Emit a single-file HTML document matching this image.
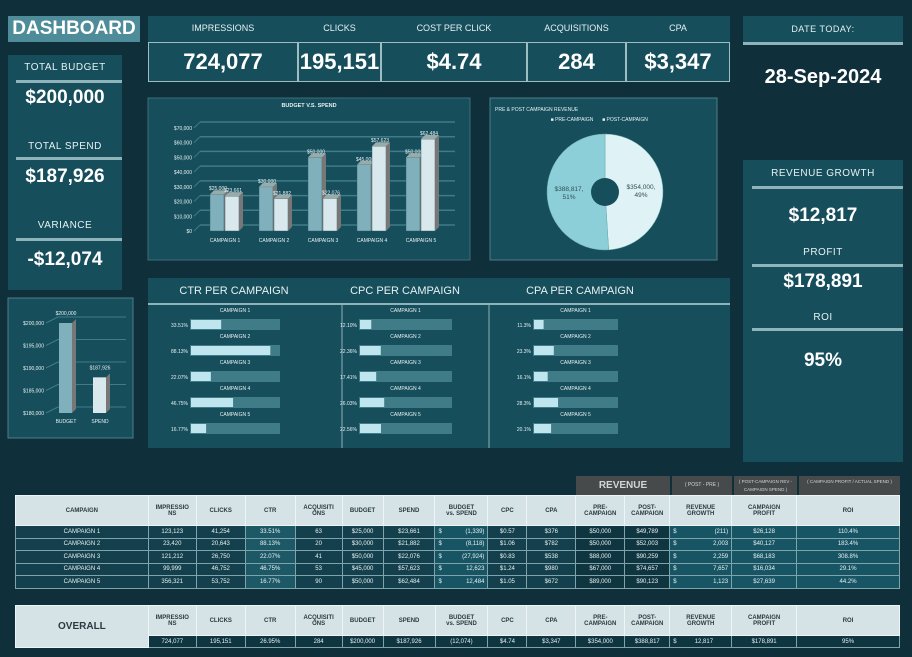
<!DOCTYPE html>
<html><head><meta charset="utf-8">
<style>
*{margin:0;padding:0;box-sizing:border-box}
body{width:912px;height:657px;background:#0f2f3a;font-family:"Liberation Sans",sans-serif;color:#fff;position:relative;overflow:hidden}
.abs{position:absolute}
.panel{position:absolute;background:#164e5b}
.c{text-align:center}
.lbl{font-size:10px;color:#e6f1f3;letter-spacing:.5px}
.big{font-weight:bold;font-size:19px}
.hr{position:absolute;height:3px;background:#8fb3ba}
table{border-collapse:collapse;position:absolute;font-size:6px;color:#e8f0f2}
td{border:1px solid #7fa3aa;text-align:center;height:12.5px;background:#13404c}
th{background:#d5e3e6;color:#2a3a40;font-size:6px;font-weight:bold;border:1px solid #eef5f6;height:30px}
</style></head><body>
<div class="abs c" style="left:8px;top:16px;width:132px;height:26px;background:#4e8c9a;font-weight:bold;font-size:19px;line-height:26px">DASHBOARD</div>

<div class="panel" style="left:148px;top:16px;width:582px;height:66px"></div>
<div id="kpis"></div>

<div class="abs c lbl" style="left:743px;top:16px;width:160px;height:26px;line-height:26px;background:#164e5b;font-size:9px">DATE TODAY:</div>
<div class="hr" style="left:743px;top:42px;width:160px"></div>
<div class="abs c big" style="left:743px;top:66px;width:160px;font-size:20px">28-Sep-2024</div>

<div class="panel" style="left:8px;top:55px;width:114px;height:235px"></div>
<div class="abs c lbl" style="left:8px;top:62px;width:114px">TOTAL BUDGET</div>
<div class="hr" style="left:16px;top:80px;width:106px"></div>
<div class="abs c big" style="left:8px;top:87px;width:114px">$200,000</div>
<div class="abs c lbl" style="left:8px;top:141px;width:114px">TOTAL SPEND</div>
<div class="hr" style="left:16px;top:157px;width:106px"></div>
<div class="abs c big" style="left:8px;top:166px;width:114px">$187,926</div>
<div class="abs c lbl" style="left:8px;top:220px;width:114px">VARIANCE</div>
<div class="hr" style="left:16px;top:238px;width:106px"></div>
<div class="abs c big" style="left:8px;top:249px;width:114px">-$12,074</div>

<div class="panel" style="left:743px;top:160px;width:160px;height:302px"></div>
<div class="abs c lbl" style="left:743px;top:168px;width:160px">REVENUE GROWTH</div>
<div class="hr" style="left:752px;top:186px;width:151px"></div>
<div class="abs c big" style="left:743px;top:205px;width:160px">$12,817</div>
<div class="abs c lbl" style="left:743px;top:247px;width:160px">PROFIT</div>
<div class="hr" style="left:752px;top:264px;width:151px"></div>
<div class="abs c big" style="left:743px;top:271px;width:160px">$178,891</div>
<div class="abs c lbl" style="left:743px;top:312px;width:160px">ROI</div>
<div class="hr" style="left:752px;top:328px;width:151px"></div>
<div class="abs c big" style="left:743px;top:350px;width:160px">95%</div>

<svg class="abs" style="left:0;top:0" width="912" height="470" id="charts"></svg>

<div class="abs" style="left:576px;top:476px;width:94px;height:19px;background:#474a4b;color:#cfd6d8;font-weight:bold;font-size:10px;line-height:19px;text-align:center">REVENUE</div>
<div class="abs" style="left:672px;top:476px;width:60px;height:19px;background:#474a4b;color:#cfd6d8;font-size:5px;line-height:19px;text-align:center">( POST - PRE )</div>
<div class="abs" style="left:734px;top:476px;width:63px;height:19px;background:#474a4b;color:#cfd6d8;font-size:4.5px;line-height:8px;padding-top:2px;text-align:center">( POST-CAMPAIGN REV - CAMPAIGN SPEND )</div>
<div class="abs" style="left:799px;top:476px;width:101px;height:19px;background:#474a4b;color:#cfd6d8;font-size:4.5px;line-height:8px;padding-top:2px;text-align:center">( CAMPAIGN PROFIT / ACTUAL SPEND )</div>
<div id="tables"></div>

<script>
const NS="http://www.w3.org/2000/svg";
const svg=document.getElementById('charts');
function el(t,a,p){const e=document.createElementNS(NS,t);for(const k in a)e.setAttribute(k,a[k]);(p||svg).appendChild(e);return e;}
function tx(x,y,s,a,p){const e=el('text',Object.assign({x:x,y:y,fill:'#e6f1f3','font-size':6,'text-anchor':'middle','font-family':'Liberation Sans'},a||{}),p);e.textContent=s;return e;}

// KPI
const kpiNames=["IMPRESSIONS","CLICKS","COST PER CLICK","ACQUISITIONS","CPA"];
const kpiValues=["724,077","195,151","$4.74","284","$3,347"];
const kpiEdges=[148,298,381,527,626,730];
const kd=document.getElementById('kpis');
kpiNames.forEach((n,i)=>{
 const h=document.createElement('div');h.className='abs c';
 
 h.style.cssText=`left:${kpiEdges[i]}px;top:23px;width:${kpiEdges[i+1]-kpiEdges[i]}px;font-size:9px;color:#e6f1f3`;
 h.textContent=n;kd.appendChild(h);
 const v=document.createElement('div');v.className='abs c';
 
 v.style.cssText=`left:${kpiEdges[i]}px;top:42px;width:${kpiEdges[i+1]-kpiEdges[i]}px;height:40px;border:1px solid #9dbdc3;font-weight:bold;font-size:22px;line-height:38px`;
 v.textContent=kpiValues[i];kd.appendChild(v);
});

// Budget vs spend chart
const campaigns=["CAMPAIGN 1","CAMPAIGN 2","CAMPAIGN 3","CAMPAIGN 4","CAMPAIGN 5"];
const budgets=[25000,30000,50000,45000,50000];
const spends=[23661,21882,22076,57623,62484];
const bTicks=[0,10000,20000,30000,40000,50000,60000,70000];
el('rect',{x:148,y:98,width:322,height:162,fill:'#164e5b',stroke:'#3d6e79'});
tx(309,107,'BUDGET V.S. SPEND',{'font-size':5.5,'font-weight':'bold'});
const by=v=>231-v/70000*103;
bTicks.forEach(t=>{el('line',{x1:200,x2:455,y1:by(t)-6,y2:by(t)-6,stroke:'#3f7c88','stroke-width':1.5});el('line',{x1:194,x2:200,y1:by(t),y2:by(t)-6,stroke:'#3f7c88'});
 tx(192,by(t)+2,'$'+t.toLocaleString('en-US'),{'text-anchor':'end','font-size':5});});
campaigns.forEach((c,i)=>{const cx=225+i*49;
 [[budgets[i],'#7fb0bb',-15],[spends[i],'#d8e8ec',0]].forEach(([v,f,o])=>{
  const r=el('rect',{x:cx+o,y:by(v),width:14,height:231-by(v),fill:f,stroke:'#2b5560','stroke-width':.4});
  
  el('polygon',{points:`${cx+o+14},${by(v)} ${cx+o+18},${by(v)-4} ${cx+o+18},${227} ${cx+o+14},231`,fill:'#777'});
  el('polygon',{points:`${cx+o},${by(v)} ${cx+o+4},${by(v)-4} ${cx+o+18},${by(v)-4} ${cx+o+14},${by(v)}`,fill:'#9aa'});
  tx(cx+o+8,by(v)-4,'$'+v.toLocaleString('en-US'),{'font-size':5});
 });
 tx(cx,242,c,{'font-size':5});
});

// Pie
const pieLabels=["PRE-CAMPAIGN","POST-CAMPAIGN"];
const pieValues=[354000,388817];
const pieShares=[49,51];
el('rect',{x:490,y:98,width:227,height:162,fill:'#164e5b',stroke:'#4e7e88'});
tx(495,111,'PRE & POST CAMPAIGN REVENUE',{'text-anchor':'start','font-size':5});
tx(572,121,'■ PRE-CAMPAIGN',{'font-size':5});tx(625,121,'■ POST-CAMPAIGN',{'font-size':5});
let ang=-Math.PI/2;const pcx=605,pcy=192,R=58;
const pcol=['#dff2f5','#8dcfd8'];
pieValues.forEach((v,i)=>{const fr=pieShares[i]/100;const a2=ang+fr*2*Math.PI;
 const p=el('path',{d:`M${pcx},${pcy} L${pcx+R*Math.cos(ang)},${pcy+R*Math.sin(ang)} A${R},${R} 0 ${fr>.5?1:0} 1 ${pcx+R*Math.cos(a2)},${pcy+R*Math.sin(a2)} Z`,fill:pcol[i],stroke:'#6aa',"stroke-width":.5});
 
 const m=(ang+a2)/2;const lx=pcx+36*Math.cos(m),ly=pcy+36*Math.sin(m);
 tx(lx,ly-2,'$'+v.toLocaleString('en-US')+',',{fill:'#2f4f55','font-size':6.5});
 tx(lx,ly+6,pieShares[i]+'%',{fill:'#2f4f55','font-size':6.5});
 ang=a2;});
el('circle',{cx:pcx,cy:pcy,r:14,fill:'#164e5b'});

// small chart
const totLabels=["BUDGET","SPEND"];
const totValues=[200000,187926];
const sTicks=[180000,185000,190000,195000,200000];
el('rect',{x:8,y:298,width:125,height:140,fill:'#164e5b',stroke:'#4e7e88'});
const sy=v=>413-(v-180000)/20000*90;
sTicks.forEach(t=>{el('line',{x1:58,x2:126,y1:sy(t)-6,y2:sy(t)-6,stroke:'#3f7c88'});el('line',{x1:46,x2:58,y1:sy(t),y2:sy(t)-6,stroke:'#3f7c88'});
 tx(44,sy(t)+2,'$'+t.toLocaleString('en-US'),{'text-anchor':'end','font-size':5});});
totValues.forEach((v,i)=>{const x=59+i*34;
 const r=el('rect',{x:x,y:sy(v),width:13,height:413-sy(v),fill:i?'#d8e8ec':'#7fb0bb'});
 
 el('polygon',{points:`${x+13},${sy(v)} ${x+17},${sy(v)-4} ${x+17},409 ${x+13},413`,fill:'#777'});
 tx(x+7,sy(v)-8,'$'+v.toLocaleString('en-US'),{'font-size':5});
 tx(x+7,423,totLabels[i],{'font-size':5});});

// CTR/CPC/CPA panel
el('rect',{x:148,y:278,width:582,height:170,fill:'#164e5b'});
el('line',{x1:148,x2:730,y1:304,y2:304,stroke:'#8fb3ba','stroke-width':2});
el('line',{x1:342,x2:342,y1:305,y2:448,stroke:'#8fb3ba'});el('line',{x1:489,x2:489,y1:305,y2:448,stroke:'#8fb3ba'});
const ctrValues=[33.51,88.13,22.07,46.75,16.77];
const cpcValues=[12.10,22.36,17.41,26.03,22.56];
const cpaValues=[11.3,23.3,16.1,28.3,20.1];
const groups=[["CTR PER CAMPAIGN",ctrValues,190,90,234],["CPC PER CAMPAIGN",cpcValues,359,93,405],["CPA PER CAMPAIGN",cpaValues,533,85,580]];
groups.forEach(([t,vals,x0,w,tc],g)=>{
 tx(tc,294,t,{'font-size':11});
 vals.forEach((v,i)=>{const y=319+i*26;
  tx(x0+w/2,313+i*26-1,campaigns[i],{'font-size':5});
  el('rect',{x:x0,y:y,width:w,height:11,fill:'#3f7c88'});
  const b=el('rect',{x:x0+1,y:y+1,width:Math.max(2,w*v/100),height:9,fill:'#bfe6ee'});
  
  tx(x0-2,y+8,(g==2?v.toFixed(1):v.toFixed(2))+'%',{'text-anchor':'end','font-size':5});
 });
});

// Tables
const colEdges=[15,148,196,245,295,342,383,435,488,527,576,625,670,732,797,900];
const headers=["CAMPAIGN","IMPRESSIO<br>NS","CLICKS","CTR","ACQUISITI<br>ONS","BUDGET","SPEND","BUDGET<br>vs. SPEND","CPC","CPA","PRE-<br>CAMPAIGN","POST-<br>CAMPAIGN","REVENUE<br>GROWTH","CAMPAIGN<br>PROFIT","ROI"];
const impressions=["123,123","23,420","121,212","99,999","356,321"];
const clicks=["41,254","20,643","26,750","46,752","53,752"];
const ctrText=["33.51%","88.13%","22.07%","46.75%","16.77%"];
const acq=["63","20","41","53","90"];
const budText=["$25,000","$30,000","$50,000","$45,000","$50,000"];
const spendText=["$23,661","$21,882","$22,076","$57,623","$62,484"];
const bvs=["(1,339)","(8,118)","(27,924)","12,623","12,484"];
const cpcText=["$0.57","$1.06","$0.83","$1.24","$1.05"];
const cpaText=["$376","$782","$538","$980","$672"];
const pre=["$50,000","$50,000","$88,000","$67,000","$89,000"];
const post=["$49,789","$52,003","$90,259","$74,657","$90,123"];
const growth=["(211)","2,003","2,259","7,657","1,123"];
const profit=["$26,128","$40,127","$68,183","$16,034","$27,639"];
const roi=["110.4%","183.4%","308.8%","29.1%","44.2%"];
const overall=["724,077","195,151","26.95%","284","$200,000","$187,926","(12,074)","$4.74","$3,347","$354,000","$388,817","12,817","$178,891","95%"];
const cols=[campaigns,impressions,clicks,ctrText,acq,budText,spendText,bvs,cpcText,cpaText,pre,post,growth,profit,roi];
function buildTable(top,rows,overallMode){
 const t=document.createElement('table');
 
 t.style.left='15px';t.style.top=top+'px';t.style.width='885px';
 let h='<colgroup>'+colEdges.slice(1).map((e,i)=>`<col style="width:${e-colEdges[i]}px">`).join('')+'</colgroup><tr>';
 headers.forEach((x,i)=>{ if(overallMode&&i==0) h+=`<th rowspan="2" style="font-size:10px">OVERALL</th>`; else h+=`<th>${x}</th>`;});
 h+='</tr>';
 if(overallMode){h+='<tr>'+overall.map((v,i)=>`<td style="background:#0f3540;height:12px">${i==11?'<span style="float:left;padding-left:3px">$</span>':''}${v}</td>`).join('')+'</tr>';}
 else for(let r=0;r<5;r++){h+='<tr>';cols.forEach((c,i)=>{let bg='#13404c';if(i==3)bg='#1d5867';if(i==10||i==11)bg='#0f3540';if(i>=12||i==7)bg='#185564';
   h+=`<td style="background:${bg};${i==7||i==12?'text-align:right;padding-right:3px':''}">${i==7||i==12?'<span style="float:left;padding-left:3px">$</span>':''}${c[r]}</td>`;});h+='</tr>';}
 t.innerHTML=h;document.getElementById('tables').appendChild(t);
}
buildTable(495,5,false);
buildTable(605,1,true);
</script>
</body></html>
